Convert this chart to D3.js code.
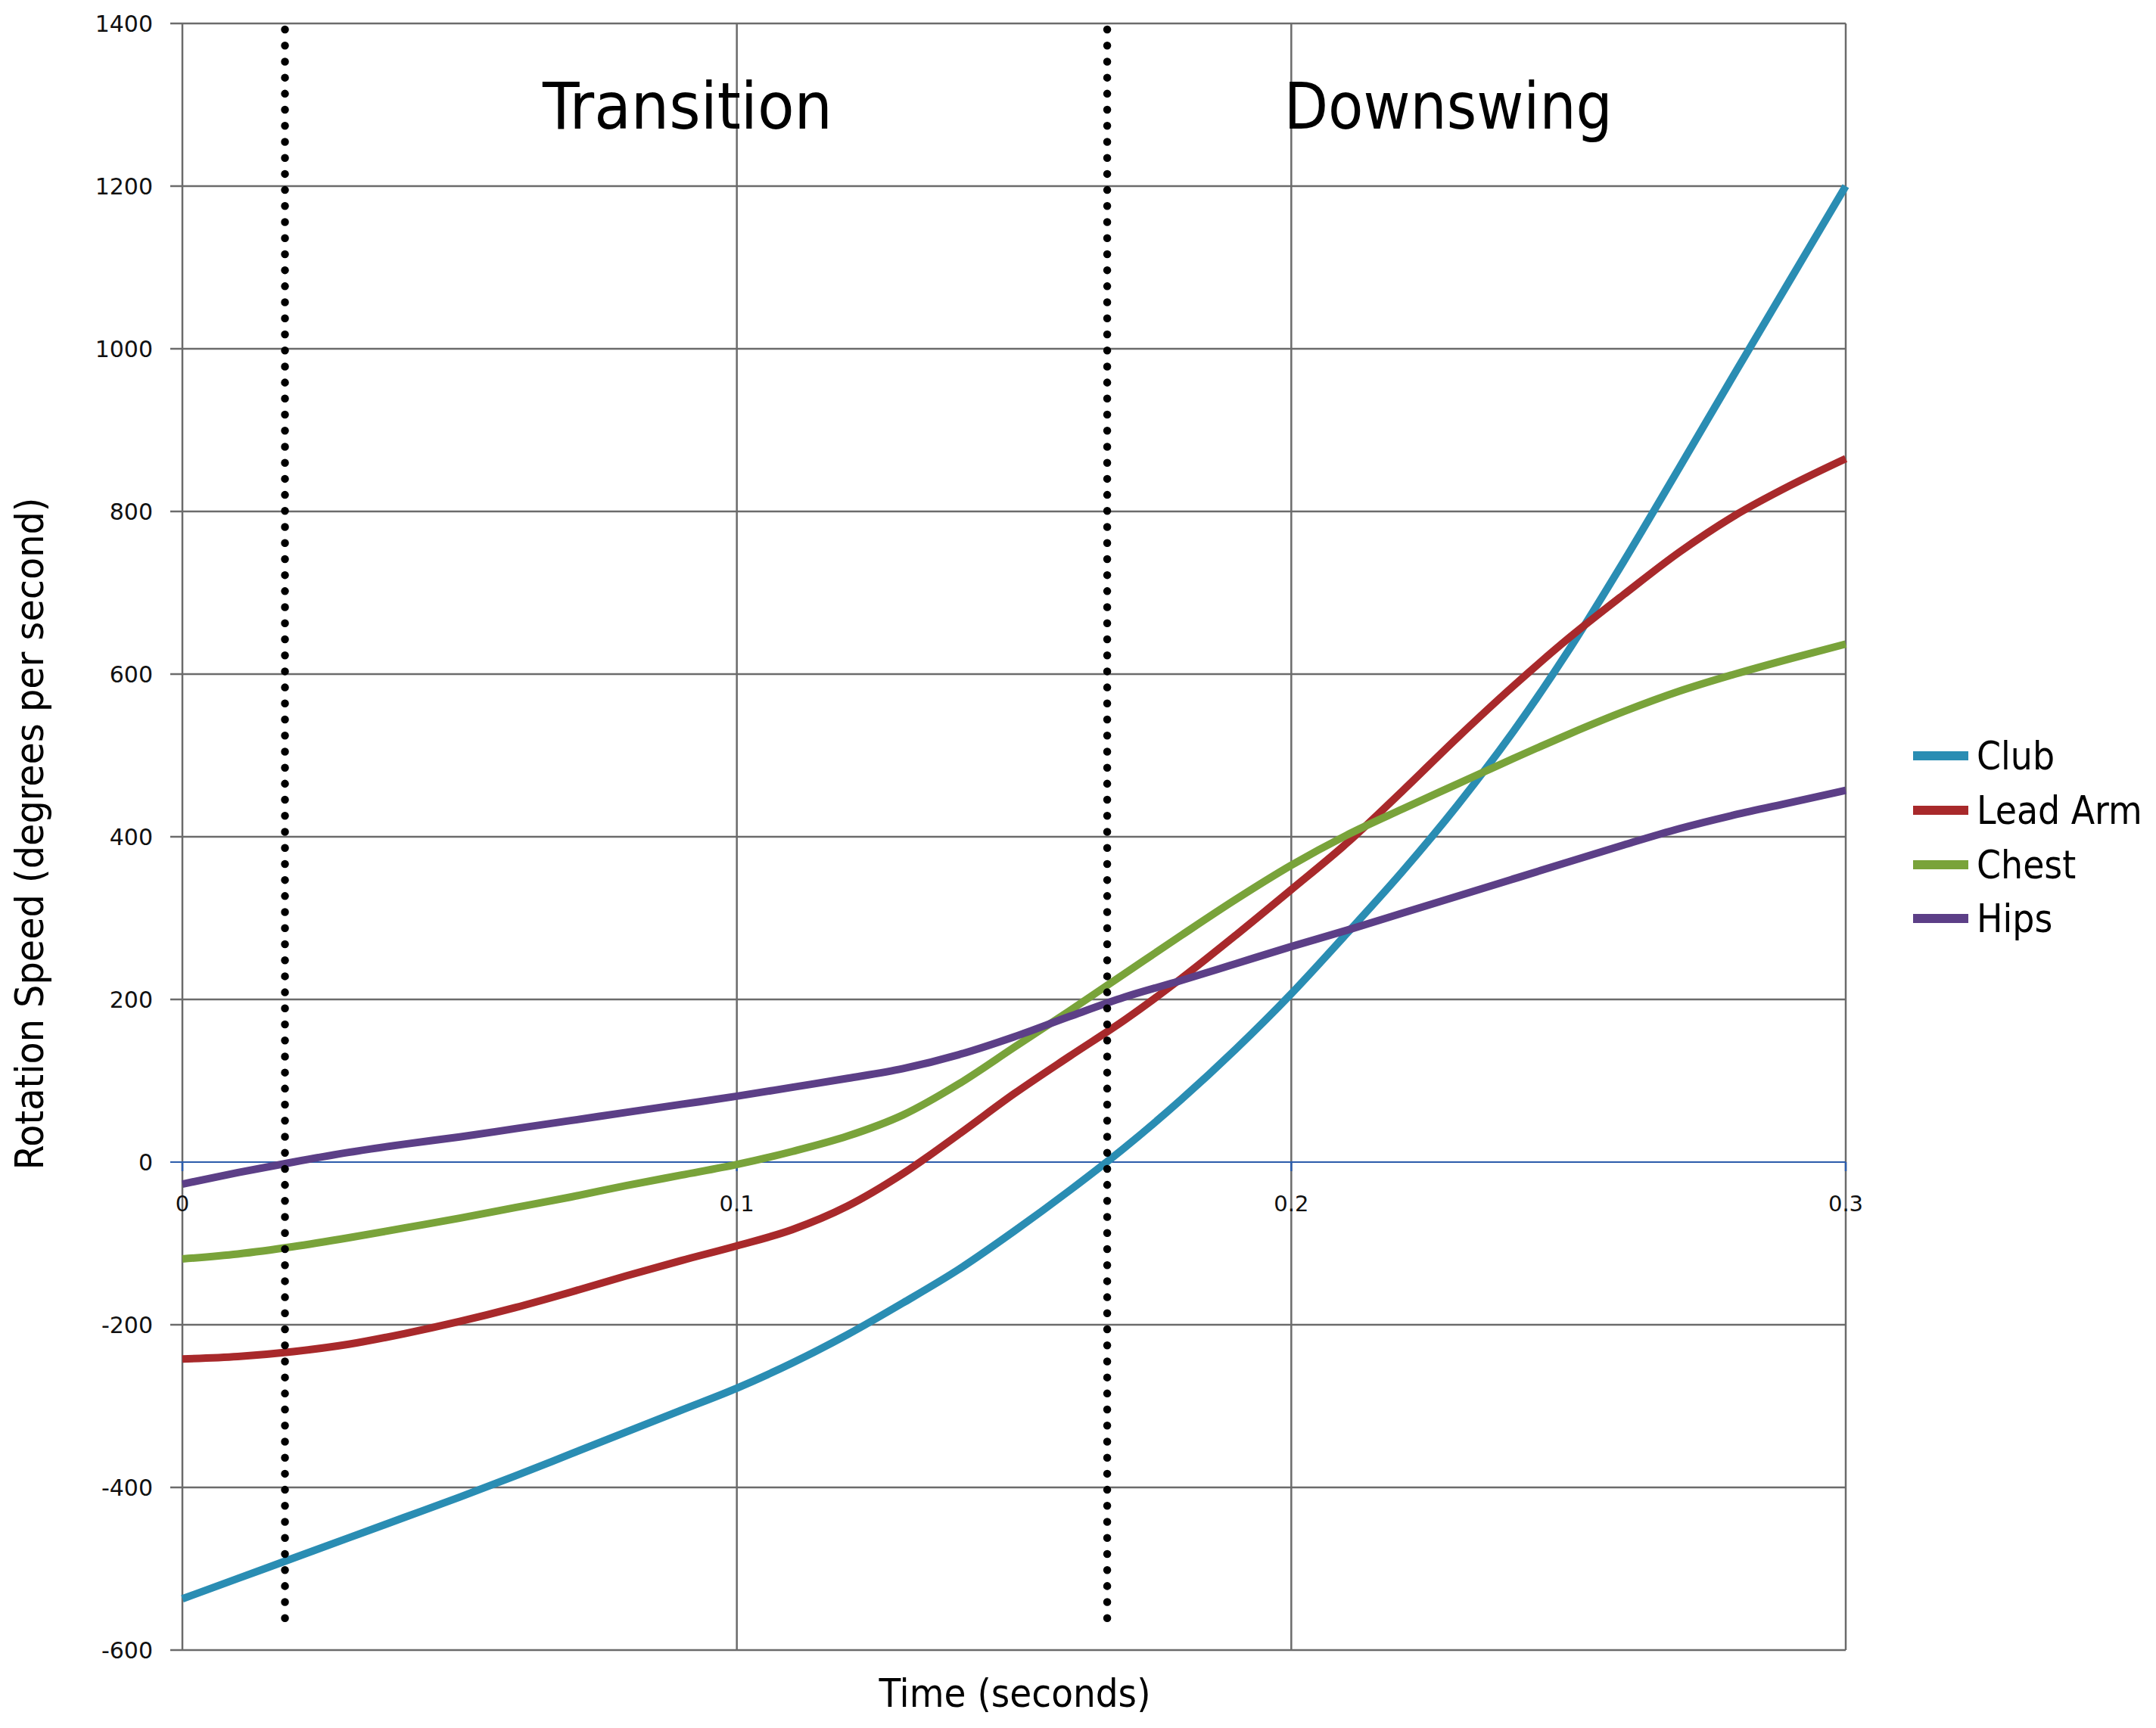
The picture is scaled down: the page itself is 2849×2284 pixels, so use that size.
<!DOCTYPE html>
<html>
<head>
<meta charset="utf-8">
<script src="https://cdn.jsdelivr.net/npm/d3@7"></script>
<style>
  html, body { margin: 0; padding: 0; background: #ffffff; }
  svg { display: block; }
</style>
</head>
<body>
<svg id="chart" width="2849" height="2284"></svg>
<script>
// ---- data ----
const times = [0, 0.01, 0.02, 0.03, 0.04, 0.05, 0.06, 0.07, 0.08, 0.09, 0.10,
               0.11, 0.12, 0.13, 0.14, 0.15, 0.16, 0.17, 0.18, 0.19, 0.20,
               0.21, 0.22, 0.23, 0.24, 0.25, 0.26, 0.27, 0.28, 0.29, 0.30];
const club    = [-537, -512, -487, -462, -437, -412, -386, -359, -332, -305, -278,
                 -247, -212, -173, -132, -85, -35, 18, 76, 139, 207,
                 281, 357, 439, 529, 629, 739, 854, 970, 1085, 1200];
const leadArm = [-242, -239, -233, -224, -211, -196, -179, -160, -140, -121, -103,
                 -83, -54, -14, 34, 84, 130, 175, 225, 279, 335,
                 392, 456, 522, 585, 644, 698, 750, 795, 832, 865];
const chest   = [-119, -113, -104, -93, -81, -69, -56, -43, -29, -16, -3,
                 13, 32, 58, 96, 141, 186, 232, 278, 323, 365,
                 402, 434, 465, 496, 526, 554, 579, 600, 619, 637];
const hips    = [-27, -13, 0, 12, 22, 31, 41, 51, 61, 71, 81,
                 92, 103, 115, 132, 154, 179, 203, 223, 244, 265,
                 285, 306, 327, 348, 369, 390, 410, 427, 442, 457];
const seriesNames  = ["Club", "Lead Arm", "Chest", "Hips"];
const seriesColors = ["#2a8db3", "#a8292b", "#79a33a", "#5c3f87"];
const yTicks = [-600, -400, -200, 0, 200, 400, 600, 800, 1000, 1200, 1400];
const xTicks = [0, 0.1, 0.2, 0.3];
const xTickLabels = ["0", "0.1", "0.2", "0.3"];
const phaseMarks = [0.0185, 0.1668];
const phaseLabels = ["Transition", "Downswing"];
const phaseLabelTimes = [0.0911, 0.2283];

// ---- layout ----
const svg = d3.select("#chart");
const x = d3.scaleLinear().domain([0, 0.3]).range([241, 2439]);
const y = d3.scaleLinear().domain([-600, 1400]).range([2181, 31]);
const gridColor = "#6b6b6b";
const zeroColor = "#2c5cab";
const condFont = "'DejaVu Sans Condensed', 'Liberation Sans', Arial, sans-serif";
const tickFont = "'DejaVu Sans', Verdana, sans-serif";

// horizontal gridlines (with outward ticks on the left)
svg.append("g").selectAll("line").data(yTicks.filter(d => d !== 0)).join("line")
  .attr("x1", 225).attr("x2", x(0.3))
  .attr("y1", d => y(d)).attr("y2", d => y(d))
  .attr("stroke", gridColor).attr("stroke-width", 2.5);

// vertical gridlines
svg.append("g").selectAll("line").data(xTicks).join("line")
  .attr("x1", d => x(d)).attr("x2", d => x(d))
  .attr("y1", y(1400)).attr("y2", y(-600))
  .attr("stroke", gridColor).attr("stroke-width", 2.5);

// zero line (horizontal axis) and its ticks
svg.append("line")
  .attr("x1", 225).attr("x2", x(0.3))
  .attr("y1", y(0)).attr("y2", y(0))
  .attr("stroke", zeroColor).attr("stroke-width", 2);
svg.append("g").selectAll("line").data(xTicks).join("line")
  .attr("x1", d => x(d)).attr("x2", d => x(d))
  .attr("y1", y(0)).attr("y2", y(0) + 12)
  .attr("stroke", zeroColor).attr("stroke-width", 2.5);

// y tick labels
svg.append("g").selectAll("text").data(yTicks).join("text")
  .attr("x", 202).attr("y", d => y(d) + 11)
  .attr("text-anchor", "end")
  .attr("font-family", tickFont).attr("font-size", 30).attr("fill", "#111")
  .text(d => String(d));

// x tick labels (sitting just under the zero line)
svg.append("g").selectAll("text").data(xTicks).join("text")
  .attr("x", d => x(d)).attr("y", 1601)
  .attr("text-anchor", "middle")
  .attr("font-family", tickFont).attr("font-size", 29).attr("fill", "#111")
  .text((d, i) => xTickLabels[i]);

// series lines
const allSeries = [club, leadArm, chest, hips];
const line = d3.line()
  .x((d, i) => x(times[i]))
  .y(d => y(d))
  .curve(d3.curveMonotoneX);
svg.append("g").selectAll("path").data(allSeries).join("path")
  .attr("d", d => line(d))
  .attr("fill", "none")
  .attr("stroke", (d, i) => seriesColors[i])
  .attr("stroke-width", 10)
  .attr("stroke-linejoin", "round")
  .attr("stroke-linecap", "butt");

// phase dotted lines
svg.append("g").selectAll("line").data(phaseMarks).join("line")
  .attr("x1", d => x(d)).attr("x2", d => x(d))
  .attr("y1", 39).attr("y2", 2160)
  .attr("stroke", "#000").attr("stroke-width", 10.5)
  .attr("stroke-linecap", "round")
  .attr("stroke-dasharray", "0.01 21.2");

// phase labels
const phaseWidths = [383, 434];
svg.append("g").selectAll("text").data(phaseLabels).join("text")
  .attr("x", (d, i) => x(phaseLabelTimes[i]))
  .attr("y", 170)
  .attr("text-anchor", "middle")
  .attr("font-family", condFont).attr("font-size", 86).attr("fill", "#000")
  .attr("textLength", (d, i) => phaseWidths[i])
  .attr("lengthAdjust", "spacingAndGlyphs")
  .text(d => d);

// axis titles
svg.append("text")
  .attr("x", 1341).attr("y", 2256)
  .attr("text-anchor", "middle")
  .attr("font-family", condFont).attr("font-size", 52).attr("fill", "#000")
  .attr("textLength", 359).attr("lengthAdjust", "spacingAndGlyphs")
  .text("Time (seconds)");
svg.append("text")
  .attr("transform", "translate(57,1102) rotate(-90)")
  .attr("text-anchor", "middle")
  .attr("font-family", condFont).attr("font-size", 52).attr("fill", "#000")
  .attr("textLength", 889).attr("lengthAdjust", "spacingAndGlyphs")
  .text("Rotation Speed (degrees per second)");

// legend
const legendRowY = [999, 1071, 1143, 1214];
const legend = svg.append("g").selectAll("g").data(seriesNames).join("g")
  .attr("transform", (d, i) => `translate(0,${legendRowY[i]})`);
legend.append("line")
  .attr("x1", 2528).attr("x2", 2601).attr("y1", 0).attr("y2", 0)
  .attr("stroke", (d, i) => seriesColors[i]).attr("stroke-width", 12);
legend.append("text")
  .attr("x", 2612).attr("y", 18)
  .attr("font-family", condFont).attr("font-size", 51).attr("fill", "#000")
  .text(d => d);
</script>
</body>
</html>
